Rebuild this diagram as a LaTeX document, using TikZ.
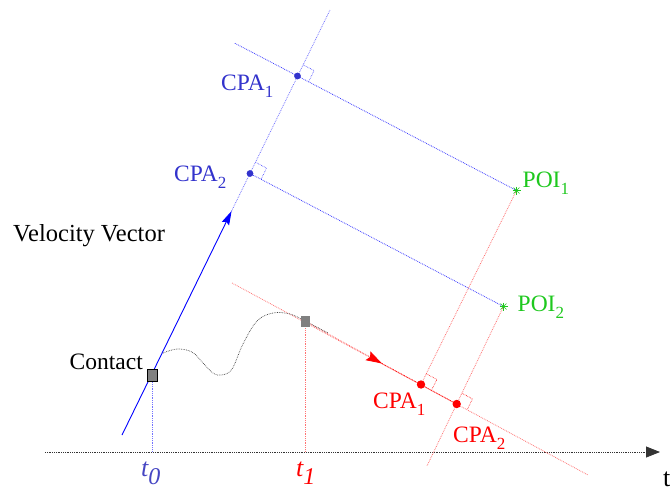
\documentclass[tikz,border=0pt]{standalone}
\usepackage{fontspec}
\setmainfont{Liberation Serif}
\usetikzlibrary{arrows.meta,calc}
\definecolor{lblblue}{RGB}{51,51,204}
\definecolor{tblue}{RGB}{70,70,195}
\definecolor{poigreen}{RGB}{30,200,30}
\definecolor{dotblue}{RGB}{60,60,255}
\definecolor{boxgray}{RGB}{128,128,128}
\newcommand{\mysub}[1]{\raisebox{-0.3em}{\fontsize{17}{17}\selectfont #1}}
\newcommand{\tsub}[1]{\raisebox{-8pt}{\fontsize{24}{24}\selectfont\itshape #1}}
\begin{document}
\begin{tikzpicture}[x=1pt,y=-1pt,
  lbl/.style={font=\fontsize{23.5}{27}\selectfont, inner sep=0pt, anchor=base west},
  tlbl/.style={font=\fontsize{26}{30}\selectfont\itshape, inner sep=0pt, anchor=base west},
  bluedot/.style={dotblue, densely dotted, line width=0.8pt},
  lightblue/.style={blue!55, densely dotted, line width=0.8pt},
  reddot/.style={red, densely dotted, line width=0.8pt},
  lightred/.style={red!55, densely dotted, line width=0.8pt},
  axisline/.style={black!80, densely dotted, line width=0.8pt},
  curveline/.style={black!75, densely dotted, line width=0.7pt},
  cbox/.style={draw=black, fill=boxgray, minimum width=10pt, minimum height=12pt, inner sep=0pt, line width=0.6pt},
  gbox/.style={fill=boxgray, minimum width=9pt, minimum height=11pt, inner sep=0pt},
  poimk/.style={line width=0.5pt}
]
\useasboundingbox (0,0) rectangle (670,491);

% coordinates
\coordinate (vs) at (122,435);
\coordinate (ve) at (330,10);
\coordinate (varrow) at (231.6,211);
\coordinate (cpa1b) at (297.5,76);
\coordinate (cpa2b) at (250,173.5);
\coordinate (poi1) at (516.5,190.5);
\coordinate (poi2) at (503.5,306.5);
\coordinate (rs) at (232,283);
\coordinate (re) at (588,475);
\coordinate (rarrow) at (382,363.5);
\coordinate (cpa1r) at (421,384.5);
\coordinate (cpa2r) at (456.7,404);
\coordinate (ax0) at (45,452);
\coordinate (ax1) at (660,452);
\coordinate (t0ax) at (152,452);
\coordinate (t1ax) at (305,452);

% axis
\draw[axisline, -{Triangle[length=14pt,width=11pt]}] (ax0) -- (ax1);

% drop lines
\draw[lightblue] (152,375) -- (t0ax);
\draw[lightred] (305,321) -- (t1ax);

% velocity line
\draw[lightblue] (varrow) -- (ve);
\draw[blue, line width=0.9pt, -{Stealth[length=14pt,width=8pt,inset=2pt]}] (vs) -- (varrow);

% blue perpendiculars
\draw[bluedot] ($(poi1)!1.286!(cpa1b)$) -- (poi1);
\draw[bluedot] (cpa2b) -- (poi2);

% red line
\draw[lightred] (rs) -- (re);
\draw[reddot] (rarrow) -- (cpa2r);
\draw[lightred, -{Stealth[length=16pt,width=10pt,inset=2.5pt,color=red,fill=red]}] (305,321) -- (rarrow);

% red perpendiculars
\draw[lightred] (poi1) -- (cpa1r);
\draw[lightred] (poi2) -- ($(poi2)!1.634!(cpa2r)$);

% right angle marks
\coordinate (a1) at ($(cpa1b)!12.5pt!(ve)$);
\coordinate (b1) at ($(cpa1b)!12.5pt!(poi1)$);
\draw[bluedot, line width=0.6pt] (a1) -- ($(a1)+(b1)-(cpa1b)$) -- (b1);
\coordinate (a2) at ($(cpa2b)!12.5pt!(ve)$);
\coordinate (b2) at ($(cpa2b)!12.5pt!(poi2)$);
\draw[bluedot, line width=0.6pt] (a2) -- ($(a2)+(b2)-(cpa2b)$) -- (b2);
\coordinate (a3) at ($(cpa1r)!12pt!(poi1)$);
\coordinate (b3) at ($(cpa1r)!12pt!(re)$);
\draw[reddot, line width=0.6pt] (a3) -- ($(a3)+(b3)-(cpa1r)$) -- (b3);
\coordinate (a4) at ($(cpa2r)!12pt!(poi2)$);
\coordinate (b4) at ($(cpa2r)!12pt!(re)$);
\draw[reddot, line width=0.6pt] (a4) -- ($(a4)+(b4)-(cpa2r)$) -- (b4);

% dots
\fill[lblblue] (cpa1b) circle (3.4pt);
\fill[lblblue] (cpa2b) circle (3.4pt);
\fill[red] (cpa1r) circle (4.2pt);
\fill[red] (cpa2r) circle (4.2pt);

% POI marks
\foreach \p in {poi1,poi2}{
  \draw[poigreen, poimk] ($(\p)+(-3,-3)$) -- ($(\p)+(3,3)$);
  \draw[poigreen, poimk] ($(\p)+(-3,3)$) -- ($(\p)+(3,-3)$);
  \draw[poigreen, poimk] ($(\p)+(-4,0)$) -- ($(\p)+(4,0)$);
  \draw[poigreen, poimk] ($(\p)+(0,-4)$) -- ($(\p)+(0,4)$);
}

% curve
\coordinate (cs) at (163,353);
\draw[curveline] plot[smooth, tension=0.6] coordinates {(cs) (177,349) (192,352) (203,363) (213,373) (222,375) (232,369) (243,344) (257,321) (273,313) (290,314) (305,321) (328,333)};

% boxes
\node[cbox] (c0) at (152,375) {};
\node[gbox] (c1) at (305,321) {};

% labels
\node[lbl, font=\fontsize{24.5}{28}\selectfont] (vv) at (13,241.7) {Velocity Vector};
\node[lbl, anchor=base east] (ct) at (143,369) {Contact};
\node[lbl, text=lblblue] (l1) at (221,90) {CPA\mysub{1}};
\node[lbl, text=lblblue] (l2) at (174,181) {CPA\mysub{2}};
\node[lbl, text=red] (l3) at (373,408) {CPA\mysub{1}};
\node[lbl, text=red] (l4) at (453,442) {CPA\mysub{2}};
\node[lbl, text=poigreen] (p1) at (522.5,187.5) {POI\mysub{1}};
\node[lbl, text=poigreen] (p2) at (517.5,311.5) {POI\mysub{2}};
\node[tlbl, text=tblue] (t0) at (141,476.7) {t\tsub{0}};
\node[tlbl, text=red] (t1) at (296,476.7) {t\tsub{1}};
\node[lbl, font=\fontsize{26}{30}\selectfont] (tt) at (663,486) {t};
\end{tikzpicture}
\end{document}
